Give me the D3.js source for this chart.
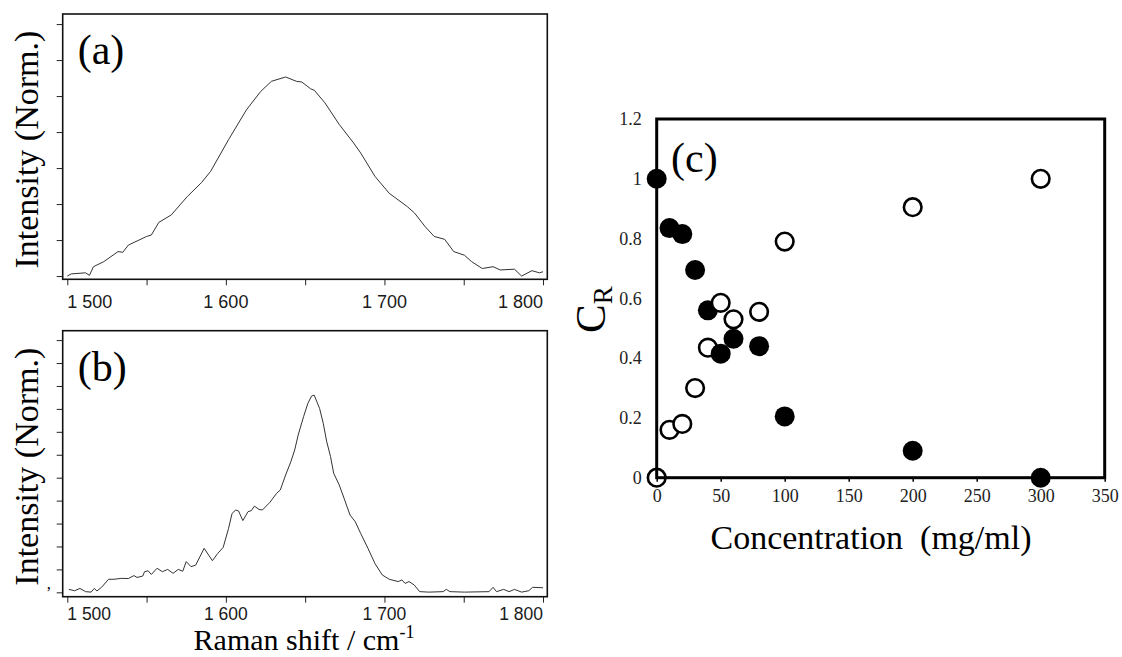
<!DOCTYPE html>
<html>
<head>
<meta charset="utf-8">
<script src="https://cdn.jsdelivr.net/npm/d3@7"></script>
<style>
  body { margin: 0; background: #fff; }
  svg { display: block; }
</style>
</head>
<body>
<div id="chart"></div>
<script>
// Raman spectra, panels (a) and (b): shift (cm-1) and normalised intensity
var shiftA = [1500, 1502.5, 1511.5, 1514, 1516.5, 1523, 1532, 1535, 1538.5, 1550, 1553, 1557.7, 1565.6,
  1575.7, 1584.7, 1590.4, 1601.7, 1613, 1622, 1628.7, 1637.7, 1644.5, 1647.9, 1653.5, 1655.8, 1662.5,
  1671.5, 1680.5, 1685, 1694, 1703, 1714.4, 1719, 1725.7, 1731.4, 1738, 1743.7, 1750.4, 1755, 1761.7,
  1768.5, 1773, 1782, 1786.5, 1793, 1797.7, 1800];
var intensA = [0.0, 0.06, 0.09, 0.02, 0.26, 0.40, 0.68, 0.66, 0.86, 1.10, 1.14, 1.49, 1.70,
  2.21, 2.60, 2.91, 3.79, 4.62, 5.13, 5.41, 5.53, 5.41, 5.39, 5.20, 5.16, 4.81,
  4.21, 3.70, 3.42, 2.77, 2.30, 1.93, 1.75, 1.37, 1.10, 1.02, 0.68, 0.58, 0.40, 0.21,
  0.26, 0.17, 0.19, 0.0, 0.15, 0.09, 0.12];

var shiftB = [1501, 1504.6, 1508, 1511.5, 1515, 1517, 1518.7, 1521.6, 1526, 1529.5, 1534, 1538.5, 1542,
  1544, 1547.6, 1548.7, 1551, 1553, 1556.6, 1560, 1563.3, 1566.7, 1570, 1572.8, 1575, 1578, 1581,
  1586.3, 1591.5, 1594.9, 1598.3, 1601.7, 1603.9, 1606.2, 1608, 1610.7, 1614, 1616, 1618, 1620.8,
  1623, 1627.6, 1632, 1634.3, 1637.7, 1641, 1643.4, 1645.6, 1649, 1651.7, 1654, 1655.7, 1659.1,
  1661.4, 1663.6, 1666, 1668, 1671.5, 1674.9, 1678.3, 1681.6, 1685, 1689.6, 1694, 1698.6, 1703,
  1708.7, 1711, 1713, 1715.5, 1718.8, 1722.2, 1728, 1737, 1739, 1741.3, 1750.4, 1766, 1768.5,
  1770.7, 1775.2, 1778.6, 1782, 1786.5, 1791, 1793.4, 1800];
var intensB = [0.13, 0.07, 0.17, 0.03, 0.01, 0.17, 0.06, 0.22, 0.57, 0.57, 0.61, 0.60, 0.73,
  0.65, 0.71, 0.90, 0.94, 0.78, 1.05, 0.90, 1.00, 0.83, 1.00, 0.92, 1.34, 1.12, 1.19,
  1.92, 1.38, 1.70, 1.96, 2.79, 3.44, 3.59, 3.55, 3.13, 3.52, 3.56, 3.76, 3.62,
  3.59, 3.91, 4.32, 4.46, 5.12, 5.70, 6.21, 6.86, 7.66, 8.24, 8.56, 8.60, 8.02,
  7.37, 6.57, 5.92, 5.19, 4.68, 4.03, 3.37, 3.08, 2.57, 1.92, 1.26, 0.76, 0.57,
  0.47, 0.54, 0.39, 0.47, 0.32, 0.03, 0.01, 0.03, 0.13, 0.03, 0.01, 0.03, 0.22,
  0.03, 0.13, 0.03, 0.13, 0.01, 0.07, 0.22, 0.20];

var shiftTicks = [1500, 1550, 1600, 1650, 1700, 1750, 1800];
var ticksA = [0, 1, 2, 3, 4, 5, 6, 7];
var ticksB = [0, 1, 2, 3, 4, 5, 6, 7, 8, 9, 10, 11];

// panel (c): C_R against concentration
var conc = [0, 10, 20, 30, 40, 50, 60, 80, 100, 200, 300];
var filledCR = [1.0, 0.835, 0.815, 0.695, 0.56, 0.415, 0.465, 0.44, 0.205, 0.09, 0.0];
var openCR = [0.0, 0.16, 0.18, 0.30, 0.435, 0.585, 0.53, 0.555, 0.79, 0.905, 1.0];
var concTicks = [0, 50, 100, 150, 200, 250, 300, 350];
var crTicks = [0, 0.2, 0.4, 0.6, 0.8, 1, 1.2];

var serif = "'Liberation Serif', 'Times New Roman', serif";
var sans = "'Liberation Sans', Arial, sans-serif";

var svg = d3.select("#chart").append("svg")
  .attr("width", 1122).attr("height", 657);
svg.append("rect").attr("width", 1122).attr("height", 657).attr("fill", "#fff");

function fmtShift(d) {
  return String(d).replace(/(\d)(\d{3})$/, "$1 $2");
}

// one spectrum panel
function spectrum(box, xs, ys, yDomain, yTicks, label, labelY, tickLabelY, tickFont) {
  var x = d3.scaleLinear().domain([1497.1, 1802.7]).range([box.l, box.r]);
  var y = d3.scaleLinear().domain(yDomain).range([box.b, box.t]);
  var g = svg.append("g");

  var line = d3.line().x(function (d) { return x(d[0]); }).y(function (d) { return y(d[1]); });
  g.append("path")
    .datum(d3.zip(xs, ys))
    .attr("d", line)
    .attr("fill", "none")
    .attr("stroke", "#333")
    .attr("stroke-width", 1);

  // ticks outside the box
  g.append("g")
    .attr("transform", "translate(0," + box.b + ")")
    .call(d3.axisBottom(x).tickValues(shiftTicks).tickSize(6).tickFormat(function () { return ""; }))
    .call(function (a) { a.select(".domain").remove(); a.selectAll("line").attr("stroke", "#222"); });
  g.append("g")
    .attr("transform", "translate(" + box.l + ",0)")
    .call(d3.axisLeft(y).tickValues(yTicks).tickSize(6).tickFormat(function () { return ""; }))
    .call(function (a) { a.select(".domain").remove(); a.selectAll("line").attr("stroke", "#222"); });

  var lab = shiftTicks.filter(function (d) { return d % 100 === 0; });
  g.selectAll("text.tl").data(lab).enter().append("text")
    .attr("class", "tl")
    .attr("x", function (d) { return x(d); })
    .attr("y", tickLabelY)
    .attr("text-anchor", function (d, i) { return i === 0 ? "start" : (i === lab.length - 1 ? "end" : "middle"); })
    .attr("font-family", sans).attr("font-size", tickFont).attr("fill", "#1a1a1a")
    .text(fmtShift);

  g.append("rect")
    .attr("x", box.l).attr("y", box.t)
    .attr("width", box.r - box.l).attr("height", box.b - box.t)
    .attr("fill", "none").attr("stroke", "#111").attr("stroke-width", 1.6);

  g.append("text")
    .attr("x", box.l + 15).attr("y", labelY)
    .attr("font-family", serif).attr("font-size", 42)
    .text(label);

  g.append("text")
    .attr("transform", "translate(38," + ((box.t + box.b) / 2 + 3) + ") rotate(-90)")
    .attr("text-anchor", "middle")
    .attr("font-family", serif).attr("font-size", 34)
    .text("Intensity (Norm.)");
}

spectrum({ l: 62.7, r: 547.3, t: 14, b: 279.3 }, shiftA, intensA, [-0.09, 7.28], ticksA, "(a)", 64, 307.5, 18);
spectrum({ l: 62.7, r: 547.3, t: 330.7, b: 596.7 }, shiftB, intensB, [-0.19, 11.41], ticksB, "(b)", 381, 620, 17.5);

// stray mark left of panel (b)
svg.append("text").attr("x", 46).attr("y", 598)
  .attr("font-family", serif).attr("font-size", 16).text("ʼ");

var xt = svg.append("text")
  .attr("x", 304).attr("y", 650.3)
  .attr("text-anchor", "middle")
  .attr("font-family", serif).attr("font-size", 30)
  .text("Raman shift / cm");
xt.append("tspan").attr("font-size", 18).attr("dy", -12).text("-1");

// panel (c)
var cx = d3.scaleLinear().domain([0, 350]).range([656.7, 1104.7]);
var cy = d3.scaleLinear().domain([0, 1.2]).range([477.7, 119]);
var pc = svg.append("g");

var pts = [];
conc.forEach(function (c, i) {
  pts.push({ x: c, y: filledCR[i], open: false });
  pts.push({ x: c, y: openCR[i], open: true });
});

pc.selectAll("circle").data(pts).enter().append("circle")
  .attr("cx", function (d) { return cx(d.x); })
  .attr("cy", function (d) { return cy(d.y); })
  .attr("r", function (d) { return d.open ? 8.8 : 10; })
  .attr("fill", function (d) { return d.open ? "#fff" : "#000"; })
  .attr("stroke", function (d) { return d.open ? "#000" : "none"; })
  .attr("stroke-width", 2.6);

pc.append("g")
  .attr("transform", "translate(0,477.7)")
  .call(d3.axisBottom(cx).tickValues(concTicks).tickSize(4).tickPadding(8).tickFormat(d3.format("d")))
  .call(function (a) {
    a.select(".domain").remove();
    a.selectAll("line").attr("stroke", "#000").attr("stroke-width", 1.5);
    a.selectAll("text").attr("font-family", serif).attr("font-size", 18).attr("fill", "#222");
  });

pc.append("g")
  .attr("transform", "translate(656.7,0)")
  .call(d3.axisLeft(cy).tickValues(crTicks).tickSize(0).tickPadding(15).tickFormat(function (d) { return String(+d.toFixed(1)); }))
  .call(function (a) {
    a.select(".domain").remove();
    a.selectAll("text").attr("font-family", serif).attr("font-size", 18).attr("fill", "#222");
  });

pc.append("rect")
  .attr("x", cx(0)).attr("y", cy(1.2))
  .attr("width", cx(350) - cx(0)).attr("height", cy(0) - cy(1.2))
  .attr("fill", "none").attr("stroke", "#000").attr("stroke-width", 3);

pc.append("text")
  .attr("x", 671).attr("y", 172)
  .attr("font-family", serif).attr("font-size", 42)
  .text("(c)");

pc.append("text")
  .attr("x", 871).attr("y", 549)
  .attr("text-anchor", "middle")
  .attr("font-family", serif).attr("font-size", 34)
  .attr("xml:space", "preserve")
  .text("Concentration  (mg/ml)");

var yl = pc.append("text")
  .attr("transform", "translate(605,333) rotate(-90)")
  .attr("font-family", serif).attr("font-size", 43)
  .text("C");
yl.append("tspan").attr("font-size", 27).attr("dy", 7).text("R");
</script>
</body>
</html>
